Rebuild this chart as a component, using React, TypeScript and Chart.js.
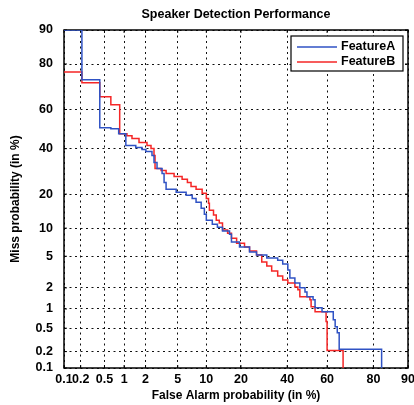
import React, { useEffect, useRef } from 'react';
import { Chart, registerables } from 'chart.js';

Chart.register(...registerables);

const tickValues = [0.1, 0.2, 0.5, 1, 2, 5, 10, 20, 40, 60, 80, 90];
const tickLabels = ['0.1', '0.2', '0.5', '1', '2', '5', '10', '20', '40', '60', '80', '90'];

const featureAFalseAlarm = [0.1, 0.21, 0.42, 0.63, 0.83, 1.06, 1.47, 1.79, 2.02, 2.43, 2.58, 2.82, 3.26, 3.45, 3.65, 4.8, 6.2, 7.2, 7.9, 8.9, 9.57, 10.0, 11.4, 12.7, 14.1, 16.2, 16.8, 19.5, 23.2, 26.0, 30.4, 35.4, 37.8, 40.3, 41.3, 43.8, 46.3, 48.9, 49.9, 53, 54, 57.5, 63, 63.9, 64.9, 65.8, 82.8];
const featureAMiss = [90, 73.8, 50.7, 50.2, 47.6, 41.6, 40.6, 39.6, 38.6, 36.6, 33.3, 30.5, 28.3, 24.5, 21.8, 20.7, 19.6, 18.5, 17.2, 15.3, 13.5, 11.9, 10.9, 10.2, 9.35, 8.7, 7.2, 6.35, 5.6, 5.17, 4.77, 4.5, 4.05, 3.42, 2.71, 2.33, 2.0, 1.76, 1.5, 1.36, 1.04, 0.91, 0.68, 0.53, 0.42, 0.22, 0.1];

const featureBFalseAlarm = [0.1, 0.21, 0.42, 0.63, 0.86, 1.1, 1.3, 1.63, 2.09, 2.36, 2.58, 2.66, 3.17, 3.65, 4.54, 5.6, 6.4, 7.0, 7.9, 9.1, 10.0, 10.5, 10.7, 11.7, 12.4, 13.2, 14.1, 15.6, 16.8, 18.5, 21.3, 23.2, 26.0, 28.2, 30.4, 32.6, 35.4, 37.8, 40.3, 43.8, 45.3, 46.3, 51.4, 52, 54, 59.5, 60, 67.6];
const featureBMiss = [77, 72.5, 66.2, 62.4, 47.6, 46.6, 45.1, 43.1, 41.6, 40.1, 36.6, 30.5, 29.6, 28.3, 27.0, 25.8, 24.5, 22.9, 21.8, 20.3, 18.5, 16.9, 14.7, 13.3, 11.9, 11.2, 9.6, 8.9, 7.9, 7.0, 6.35, 5.74, 5.17, 4.28, 3.83, 3.33, 2.88, 2.55, 2.33, 2.06, 1.88, 1.5, 1.36, 1.08, 0.91, 0.64, 0.21, 0.1];

const seriesNames = ['FeatureA', 'FeatureB'];
const seriesColors = ['#2f52c4', '#f52626'];

function probit(p: number): number {
  const a = [-3.969683028665376e1, 2.209460984245205e2, -2.759285104469687e2, 1.38357751867269e2, -3.066479806614716e1, 2.506628277459239];
  const b = [-5.447609879822406e1, 1.615858368580409e2, -1.556989798598866e2, 6.680131188771972e1, -1.328068155288572e1];
  const c = [-7.784894002430293e-3, -3.223964580411365e-1, -2.400758277161838, -2.549732539343734, 4.374664141464968, 2.938163982698783];
  const d = [7.784695709041462e-3, 3.224671290700398e-1, 2.445134137142996, 3.754408661907416];
  const pl = 0.02425;
  const ph = 1 - pl;
  let q: number, r: number;
  if (p < pl) {
    q = Math.sqrt(-2 * Math.log(p));
    return (((((c[0] * q + c[1]) * q + c[2]) * q + c[3]) * q + c[4]) * q + c[5]) / ((((d[0] * q + d[1]) * q + d[2]) * q + d[3]) * q + 1);
  }
  if (p <= ph) {
    q = p - 0.5;
    r = q * q;
    return ((((((a[0] * r + a[1]) * r + a[2]) * r + a[3]) * r + a[4]) * r + a[5]) * q) / (((((b[0] * r + b[1]) * r + b[2]) * r + b[3]) * r + b[4]) * r + 1);
  }
  q = Math.sqrt(-2 * Math.log(1 - p));
  return -(((((c[0] * q + c[1]) * q + c[2]) * q + c[3]) * q + c[4]) * q + c[5]) / ((((d[0] * q + d[1]) * q + d[2]) * q + d[3]) * q + 1);
}

const toPoints = (fa: number[], miss: number[]) => fa.map((v, i) => ({ x: probit(v / 100), y: probit(miss[i] / 100) }));

const FONT = '"Liberation Sans", Arial, Helvetica, sans-serif';

const framePlugin = {
  id: 'detFrame',
  beforeDatasetsDraw(chart: any) {
    const { ctx, chartArea, scales } = chart;
    const { left, right, top, bottom } = chartArea;
    ctx.save();
    ctx.strokeStyle = '#000';
    ctx.lineWidth = 1;
    ctx.setLineDash([]);
    ctx.beginPath();
    tickValues.forEach((v) => {
      const px = scales.x.getPixelForValue(probit(v / 100));
      ctx.moveTo(px, bottom);
      ctx.lineTo(px, bottom - 3);
      ctx.moveTo(px, top);
      ctx.lineTo(px, top + 3);
      const py = scales.y.getPixelForValue(probit(v / 100));
      ctx.moveTo(left, py);
      ctx.lineTo(left + 3, py);
      ctx.moveTo(right, py);
      ctx.lineTo(right - 3, py);
    });
    ctx.stroke();
    ctx.lineWidth = 1.5;
    ctx.strokeRect(left, top, right - left, bottom - top);
    ctx.restore();
  },
  afterDatasetsDraw(chart: any) {
    const { ctx, chartArea } = chart;
    const bx = chartArea.right - 117;
    const by = chartArea.top + 6;
    const bw = 112;
    const bh = 35;
    ctx.save();
    ctx.fillStyle = '#fff';
    ctx.fillRect(bx, by, bw, bh);
    ctx.strokeStyle = '#000';
    ctx.lineWidth = 1.2;
    ctx.strokeRect(bx, by, bw, bh);
    ctx.font = `bold 12.5px ${FONT}`;
    ctx.textBaseline = 'middle';
    ctx.textAlign = 'left';
    seriesNames.forEach((name, i) => {
      const ly = by + 11 + i * 15;
      ctx.strokeStyle = seriesColors[i];
      ctx.lineWidth = 1.5;
      ctx.beginPath();
      ctx.moveTo(bx + 6, ly);
      ctx.lineTo(bx + 46, ly);
      ctx.stroke();
      ctx.fillStyle = '#000';
      ctx.fillText(name, bx + 50, ly);
    });
    ctx.restore();
  },
};

export default function App() {
  const canvasRef = useRef<HTMLCanvasElement | null>(null);

  useEffect(() => {
    if (!canvasRef.current) return;
    const tickFont = { family: FONT, size: 12.5, weight: 'bold' as const };
    const axisCommon = (isX: boolean) => ({
      type: 'linear' as const,
      min: probit(0.001),
      max: probit(0.9),
      afterBuildTicks: (s: any) => {
        s.ticks = tickValues.map((v) => ({ value: probit(v / 100) }));
      },
      ticks: {
        autoSkip: false,
        maxRotation: 0,
        minRotation: 0,
        padding: isX ? 4 : 11,
        color: '#000',
        font: tickFont,
        callback: (_v: any, i: number) => tickLabels[i],
      },
      grid: { color: '#111', lineWidth: 1, drawTicks: false },
      border: { display: false, dash: [2, 3.5] },
    });

    const chart = new Chart(canvasRef.current, {
      type: 'line',
      data: {
        datasets: [
          {
            label: seriesNames[0],
            data: toPoints(featureAFalseAlarm, featureAMiss),
            borderColor: seriesColors[0],
            borderWidth: 1.5,
            pointRadius: 0,
            stepped: 'before',
            fill: false,
          },
          {
            label: seriesNames[1],
            data: toPoints(featureBFalseAlarm, featureBMiss),
            borderColor: seriesColors[1],
            borderWidth: 1.5,
            pointRadius: 0,
            stepped: 'before',
            fill: false,
          },
        ],
      },
      options: {
        animation: false,
        responsive: false,
        devicePixelRatio: 1,
        layout: { padding: { left: 0, right: 6, top: 0, bottom: 0 } },
        plugins: {
          legend: { display: false },
          tooltip: { enabled: false },
          title: {
            display: true,
            text: 'Speaker Detection Performance',
            color: '#000',
            fullSize: false,
            font: { family: FONT, size: 12.5, weight: 'bold' },
            padding: { top: 7.5, bottom: 7.5 },
          },
        },
        scales: {
          x: {
            ...axisCommon(true),
            title: {
              display: true,
              text: 'False Alarm probability (in %)',
              color: '#000',
              font: { family: FONT, size: 12, weight: 'bold' },
              padding: { top: 0, bottom: 2 },
            },
            afterFit: (s: any) => {
              s.height = 37;
              s.paddingLeft = 0;
              s.paddingRight = 0;
            },
          },
          y: {
            ...axisCommon(false),
            title: {
              display: true,
              text: 'Miss probability (in %)',
              color: '#000',
              font: { family: FONT, size: 12, weight: 'bold' },
              padding: { top: 8, bottom: 0 },
            },
            afterFit: (s: any) => {
              s.width = 64;
              s.paddingTop = 0;
              s.paddingBottom = 0;
            },
          },
        },
      },
      plugins: [framePlugin],
    } as any);

    return () => chart.destroy();
  }, []);

  return (
    <div style={{ position: 'fixed', left: 0, top: 0, width: 414, height: 405, background: '#fff' }}>
      <canvas ref={canvasRef} width={414} height={405} style={{ width: 414, height: 405, display: 'block' }} />
    </div>
  );
}
